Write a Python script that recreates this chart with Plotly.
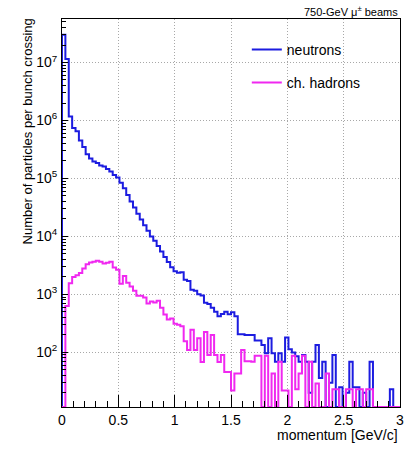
import numpy as np
import plotly.graph_objects as go

# Momentum binning: 100 bins of 0.03 GeV/c from 0 to 3 GeV/c
bin_edges = np.round(np.linspace(0.0, 3.0, 101), 4)

# Particles per bunch crossing in each momentum bin
neutrons = [
    3.0e7, 1.15e7, 1.17e6, 7.4e5, 6.5e5, 4.5e5, 3.5e5, 2.6e5, 2.2e5, 1.96e5,
    1.85e5, 1.67e5, 1.6e5, 1.45e5, 1.32e5, 1.15e5, 1.04e5, 8.4e4, 6.8e4, 5.2e4,
    4.0e4, 3.15e4, 2.45e4, 1.95e4, 1.55e4, 1.25e4, 1.0e4, 8.4e3, 6.8e3, 5.5e3,
    4.4e3, 3.6e3, 2.95e3, 2.5e3, 2.35e3, 2.4e3, 1.78e3, 1.7e3, 1.2e3, 1.15e3,
    1.0e3, 960, 720, 680, 590, 500, 420, 460, 500, 455,
    490, 420, 205, 205, 200, 200, 200, 160, 160, 134,
    96, 175, 96, 69, 96, 69, 180, 113, 99, 86,
    69, 90, 69, 20, 69, 134, 36, 69, 0, 30,
    90, 0, 25, 0, 20, 69, 25, 25, 0, 20,
    0, 69, 0, 0, 0, 0, 0, 23, 0, 0,
]

ch_hadrons = [
    0, 630, 1560, 1990, 2130, 2340, 2780, 3300, 3550, 3640,
    3800, 3640, 3400, 3500, 3640, 2900, 2670, 1520, 2070, 1580,
    1360, 1160, 950, 950, 885, 695, 750, 725, 775, 590,
    450, 370, 385, 310, 300, 283, 155, 110, 245, 110,
    175, 68, 225, 90, 200, 90, 68, 90, 46, 46,
    22, 43, 43, 110, 70, 70, 69, 87, 87, 0,
    87, 0, 43, 0, 69, 22, 22, 0, 87, 23,
    43, 87, 0, 69, 0, 29, 0, 0, 43, 0,
    23, 23, 0, 0, 23, 23, 0, 23, 23, 0,
    23, 23, 0, 0, 0, 0, 0, 0, 0, 0,
]

# Axis ranges (log10 for y)
x_range = [0.0, 3.0]
y_log_range = [1.057, 7.75]
y_floor = 10 ** y_log_range[0]

x_tick_vals = [0, 0.5, 1, 1.5, 2, 2.5, 3]
x_tick_text = ["0", "0.5", "1", "1.5", "2", "2.5", "3"]
y_tick_vals = [1e2, 1e3, 1e4, 1e5, 1e6, 1e7]
y_tick_text = ["10<sup>2</sup>", "10<sup>3</sup>", "10<sup>4</sup>",
               "10<sup>5</sup>", "10<sup>6</sup>", "10<sup>7</sup>"]

BLUE = "#1c1ce0"
MAGENTA = "#f028f0"
GRID = "#a8a8a8"
FONT = "Liberation Sans, Arial, Helvetica, sans-serif"


def step_outline(values):
    """Histogram outline: empty bins sit on the axis floor."""
    vals = [v if v > 0 else y_floor for v in values]
    xs = [bin_edges[0]] + list(bin_edges[:-1]) + [bin_edges[-1], bin_edges[-1]]
    ys = [y_floor] + vals + [vals[-1], y_floor]
    return xs, ys


fig = go.Figure()

xn, yn = step_outline(neutrons)
fig.add_trace(go.Scatter(
    x=xn, y=yn, mode="lines", line=dict(color=BLUE, width=2, shape="hv"),
    name="neutrons", legend="legend",
))

xh, yh = step_outline(ch_hadrons)
fig.add_trace(go.Scatter(
    x=xh, y=yh, mode="lines", line=dict(color=MAGENTA, width=2, shape="hv"),
    name="ch. hadrons", legend="legend2",
))

minor_x = [round(0.1 * i, 2) for i in range(1, 30) if i % 5 != 0]
minor_y = [m * 10 ** e for e in range(1, 8) for m in range(2, 10)]

fig.update_layout(
    width=414, height=449,
    margin=dict(l=62, r=10, t=19, b=42),
    paper_bgcolor="white", plot_bgcolor="white",
    font=dict(family=FONT, size=14, color="black"),
    xaxis=dict(
        range=x_range, tickvals=x_tick_vals, ticktext=x_tick_text,
        ticks="inside", ticklen=12, tickwidth=1, tickcolor="black",
        showline=True, linecolor="black", linewidth=1, mirror=True,
        showgrid=True, gridcolor=GRID, griddash="1px,2px", gridwidth=1,
        zeroline=False,
        minor=dict(tickvals=minor_x, ticks="inside", ticklen=6,
                   tickcolor="black", showgrid=False),
        tickfont=dict(size=14),
    ),
    yaxis=dict(
        type="log", range=y_log_range, tickvals=y_tick_vals, ticktext=y_tick_text,
        ticks="inside", ticklen=6, tickwidth=1, tickcolor="black",
        showline=True, linecolor="black", linewidth=1, mirror=True,
        showgrid=True, gridcolor=GRID, griddash="1px,2px", gridwidth=1,
        zeroline=False, ticklabelstandoff=1,
        minor=dict(tickvals=minor_y, ticks="inside", ticklen=4,
                   tickcolor="black", showgrid=False),
        tickfont=dict(size=14),
    ),
    legend=dict(x=(249 - 62) / 342, y=(407 - 50) / 388, xanchor="left",
                yanchor="middle", bgcolor="rgba(0,0,0,0)", borderwidth=0,
                font=dict(size=14)),
    legend2=dict(x=(249 - 62) / 342, y=(407 - 83) / 388, xanchor="left",
                 yanchor="middle", bgcolor="rgba(0,0,0,0)", borderwidth=0,
                 font=dict(size=14)),
    showlegend=True,
)

# Axis titles in ROOT style: right/top aligned
fig.add_annotation(
    text="momentum [GeV/c]", xref="paper", yref="paper",
    x=1.0, y=(407 - 435) / 388, xanchor="right", yanchor="middle",
    showarrow=False, font=dict(size=14),
)
fig.add_annotation(
    text="Number of particles per bunch crossing", xref="paper", yref="paper",
    x=(27 - 62) / 342, y=(407 - 16) / 388, xanchor="center", yanchor="top",
    textangle=-90, showarrow=False, font=dict(size=13),
)
fig.add_annotation(
    text="750-GeV \u03bc<sup>\u00b1</sup> beams", xref="paper", yref="paper",
    x=1.0, y=(407 - 11) / 388, xanchor="right", yanchor="middle",
    showarrow=False, font=dict(size=11),
)

fig.write_html("out.html")
